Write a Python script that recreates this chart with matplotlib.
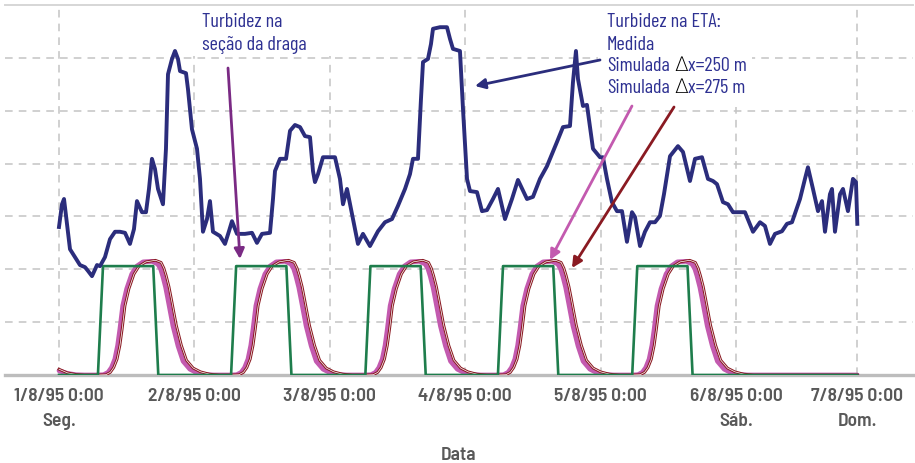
import matplotlib
matplotlib.use("Agg")
import matplotlib.pyplot as plt
import matplotlib.transforms as mtransforms
from matplotlib.patches import Rectangle

ANN_FONT = ['Barlow Condensed', 'Roboto Condensed', 'DejaVu Sans']
TICK_FONT = ['Barlow Semi Condensed', 'Roboto Condensed', 'DejaVu Sans']
plt.rcParams['font.family'] = TICK_FONT

# ---------------- data ----------------
# Turbidez na ETA medida (hours since 1/8/95 0:00, turbidity)
med_t = [0.0, 0.53, 0.89, 1.42, 1.95, 2.84, 3.72, 4.61, 5.14, 5.85, 6.74, 7.27, 8.15, 9.04, 9.93,
         10.81, 11.70, 12.58, 13.29, 13.82, 14.71, 15.42, 15.95, 16.48, 17.01, 17.55, 18.43, 18.96,
         19.32, 20.03, 20.56, 21.09, 21.45, 22.51, 22.86, 23.57, 24.46, 24.99, 25.52, 26.23, 26.76,
         27.29, 28.53, 29.42, 30.13, 30.66, 31.55, 32.97, 34.21, 35.09, 35.98, 37.40, 37.93, 38.29,
         39.17, 40.24, 40.95, 41.83, 42.72, 43.60, 44.49, 45.02, 45.37, 45.91, 46.79, 48.92, 49.80,
         50.34, 51.05, 51.93, 52.99, 53.88, 55.12, 56.54, 57.78, 59.02, 60.08, 61.33, 62.21, 62.74,
         63.63, 64.16, 64.52, 65.40, 65.93, 66.29, 67.53, 68.77, 69.30, 69.83, 71.07, 71.61, 72.32,
         72.85, 74.09, 74.98, 75.86, 76.92, 77.81, 79.05, 80.29, 81.35, 82.95, 84.01, 85.25, 86.49,
         88.27, 89.33, 90.57, 91.10, 91.63, 91.99, 92.87, 93.58, 94.65, 95.89, 96.42, 97.13, 98.01,
         98.90, 99.79, 100.67, 101.56, 102.09, 102.98, 103.86, 104.75, 105.64, 106.52, 107.23,
         108.30, 109.71, 110.60, 111.84, 112.73, 113.97, 115.03, 115.92, 116.63, 117.69, 118.58,
         119.46, 121.59, 123.01, 124.25, 125.13, 126.02, 126.91, 128.15, 129.03, 129.92, 131.34,
         132.22, 132.75, 133.64, 134.53, 135.24, 135.77, 136.65, 137.01, 137.54, 138.43, 138.96,
         139.84, 140.73, 141.26, 141.5]
med_v = [28.0, 32.3, 33.3, 28.6, 23.8, 22.3, 20.8, 20.4, 19.7, 18.7, 20.8, 20.6, 22.3, 25.7, 27.1,
         27.1, 26.9, 24.8, 27.6, 32.9, 30.8, 30.8, 35.2, 40.9, 39.0, 35.2, 32.3, 42.8,
         56.9, 59.8, 61.3, 59.8, 57.5, 57.1, 54.1, 46.5, 42.8, 37.1, 27.1, 29.5, 32.9,
         27.1, 26.3, 24.8, 27.2, 29.1, 26.7, 26.7, 26.9, 25.0, 26.7, 26.9, 33.3, 38.6,
         40.9, 40.9, 46.2, 47.3, 46.9, 45.2, 45.0, 38.6, 36.5, 38.0, 41.2, 41.2, 37.1,
         32.3, 35.2, 30.5, 24.8, 26.7, 24.4, 27.2, 28.9, 29.5, 32.0, 35.2, 38.0, 40.9,
         40.9, 52.2, 59.2, 59.8, 62.6, 65.5, 65.8, 65.8, 63.6, 61.7, 61.3, 50.3, 37.1,
         34.8, 34.6, 31.0, 31.2, 33.3, 35.2, 29.5, 33.3, 36.9, 33.3, 33.7, 37.1, 39.5,
         44.1, 46.9, 47.1, 55.4, 61.3, 56.0, 50.9, 51.1, 42.8, 41.2, 41.2, 37.1, 32.7,
         31.0, 31.0, 25.2, 30.8, 29.9, 24.4, 27.1, 28.9, 28.9, 30.1, 34.2,
         41.4, 43.3, 42.2, 36.7, 40.9, 41.2, 37.1, 36.7, 36.1, 32.7, 32.3,
         30.8, 30.8, 27.1, 28.9, 28.2, 24.8, 26.7, 27.2, 28.6, 28.9, 33.3,
         37.1, 39.3, 35.2, 31.0, 32.9, 27.1, 34.2, 35.2, 27.1, 34.2, 35.2,
         31.0, 37.1, 36.5, 28.6]

# pulse start times (h) of dredging
pulse_start = [6.9, 30.5, 54.3, 77.8, 101.6]
end_t = 141.5

# Turbidez na seção da draga (profile relative to pulse start)
draga_off = [0.0, 0.9, 9.8, 10.7]
draga_val = [0.0, 20.6, 20.6, 0.0]

# Simulada dx=250 m (profile relative to pulse start)
s250_off = [0.0, 1.0, 1.8, 2.4, 3.0, 3.5, 3.9, 4.4, 5.1, 6.0, 6.9, 8.0, 9.6, 10.6, 11.1, 11.5,
            12.0, 12.4, 13.3, 14.2, 15.1, 16.3, 17.6, 19.0, 20.5]
s250_val = [0.0, 0.05, 0.5, 1.4, 3.0, 5.6, 8.7, 13.1, 16.3, 19.1, 20.6, 21.4, 21.5, 21.0, 20.1, 18.7,
            16.6, 14.4, 9.3, 5.5, 2.6, 1.1, 0.4, 0.1, 0.0]
s250_tail_t = [0.0, 1.5, 3.0, 4.5]
s250_tail_v = [0.8, 0.3, 0.05, 0.0]

# Simulada dx=275 m (profile relative to pulse start)
s275_off = [0.0, 1.4, 2.2, 2.8, 3.4, 3.9, 4.3, 4.8, 5.5, 6.4, 7.3, 8.5, 10.2, 11.2, 11.7, 12.1,
            12.6, 13.0, 13.9, 14.8, 15.7, 16.9, 18.2, 19.8, 21.5]
s275_val = [0.0, 0.05, 0.5, 1.4, 3.0, 5.6, 8.7, 13.1, 16.3, 19.1, 20.6, 21.4, 21.7, 21.3, 20.2, 18.8,
            16.7, 14.5, 9.4, 5.6, 2.8, 1.3, 0.6, 0.15, 0.0]
s275_tail_t = [0.0, 1.5, 3.0, 4.5]
s275_tail_v = [1.1, 0.4, 0.1, 0.0]

tick_pos = [0, 24, 48, 72, 96, 120, 141.5]
tick_labels = ["1/8/95 0:00", "2/8/95 0:00", "3/8/95 0:00", "4/8/95 0:00",
               "5/8/95 0:00", "6/8/95 0:00", "7/8/95 0:00"]
day_pos = [0, 120, 141.5]
day_labels = ["Seg.", "Sáb.", "Dom."]


def build(tail_t, tail_v, off, val):
    t = list(tail_t)
    v = list(tail_v)
    for s in pulse_start:
        t += [s + o for o in off]
        v += list(val)
    t.append(end_t)
    v.append(0.0)
    return t, v


draga_t, draga_v = build([0.0], [0.0], draga_off, draga_val)
s250_t, s250_v = build(s250_tail_t, s250_tail_v, s250_off, s250_val)
s275_t, s275_v = build(s275_tail_t, s275_tail_v, s275_off, s275_val)

# ---------------- colours ----------------
NAVY = '#2b2d7c'
PINK = '#c35aaf'
DRED = '#8a1a22'
GREEN = '#1e7d4c'
PURPLE = '#7a2a84'
TXT = '#2e3192'
GRAY = '#595959'

fig = plt.figure(figsize=(9.15, 4.64), dpi=100)
ax = fig.add_axes([5 / 915, (464 - 376) / 464, 908 / 915, 370 / 464])
ax.set_xlim(-9.57, 151.37)
ax.set_ylim(0, 70)

# grid
for yv in [10, 20, 30, 40, 50, 60]:
    ax.axhline(yv, color='#c4c4c4', lw=1.1, dashes=(5, 4), zorder=0)
for xv in tick_pos:
    ax.axvline(xv, color='#c4c4c4', lw=1.1, dashes=(5, 4), zorder=0)

for sp in ['left', 'right']:
    ax.spines[sp].set_visible(False)
ax.spines['top'].set_color('#d6d6d6')
ax.spines['top'].set_linewidth(1.4)
ax.spines['bottom'].set_color('#bdbdbd')
ax.spines['bottom'].set_linewidth(2.4)
ax.set_yticks([])

# white boxes behind annotation text
ax.add_patch(Rectangle((0.2037, 0.862), 0.1608, 0.132, transform=ax.transAxes,
                       facecolor='white', edgecolor='none', zorder=1))
ax.add_patch(Rectangle((0.653, 0.724), 0.17, 0.27, transform=ax.transAxes,
                       facecolor='white', edgecolor='none', zorder=1))

# series
ax.plot(s250_t, s250_v, color=PINK, lw=3.4, solid_capstyle='round', zorder=3)
ax.plot(s275_t, s275_v, color=DRED, lw=2.0, zorder=4)
ax.plot(s275_t, s275_v, color='white', lw=0.5, zorder=4.1)
ax.plot(draga_t, draga_v, color=GREEN, lw=1.9, zorder=5)
ax.plot(med_t, med_v, color=NAVY, lw=2.8, solid_joinstyle='round', zorder=6)

# ticks
TFS = 14
ax.set_xticks(tick_pos)
ax.set_xticklabels(tick_labels, fontsize=TFS, color=GRAY, fontweight='semibold')
ax.tick_params(axis='x', length=0, pad=8.5)
trans = mtransforms.blended_transform_factory(ax.transData, ax.transAxes)
for p, lab in zip(day_pos, day_labels):
    ax.text(p, -0.124, lab, transform=trans, ha='center', va='center',
            fontsize=TFS, color=GRAY, fontweight='semibold')
fig.text(459 / 915, (464 - 456) / 464, "Data", ha='center', va='center',
         fontsize=TFS, color=GRAY, fontweight='semibold')

# annotations
AFS = 14.5
ax.text(0.217, 0.9432, "Turbidez na", transform=ax.transAxes, ha='left', va='baseline',
        fontsize=AFS, color=TXT, zorder=7, family=ANN_FONT)
ax.text(0.217, 0.8811, "seção da draga", transform=ax.transAxes, ha='left', va='baseline',
        fontsize=AFS, color=TXT, zorder=7, family=ANN_FONT)
ax.text(0.663, 0.9432, "Turbidez na ETA:", transform=ax.transAxes, ha='left', va='baseline',
        fontsize=AFS, color=TXT, zorder=7, family=ANN_FONT)
ax.text(0.663, 0.8811, "Medida", transform=ax.transAxes, ha='left', va='baseline',
        fontsize=AFS, color=TXT, zorder=7, family=ANN_FONT)
for yy, tail in [(0.8135, "x=250 m"), (0.7541, "x=275 m")]:
    t1 = ax.text(0.663, yy, "Simulada", transform=ax.transAxes, ha='left', va='bottom',
                 fontsize=AFS, color=TXT, zorder=7, family=ANN_FONT)
    t2 = ax.annotate("∆", xy=(1, 0), xycoords=t1, xytext=(3.2, 0), textcoords='offset points',
                     ha='left', va='bottom', fontsize=AFS, color='black', zorder=7,
                     family=['DejaVu Sans'], fontweight='light')
    ax.annotate(tail, xy=(1, 0), xycoords=t2, ha='left', va='bottom', fontsize=AFS,
                color=TXT, zorder=7, family=ANN_FONT)

arrows = [((0.2588, 0.3135), (0.2456, 0.8297), PURPLE),
          ((0.5176, 0.7811), (0.6553, 0.8514), NAVY),
          ((0.6002, 0.3108), (0.6905, 0.7270), PINK),
          ((0.6244, 0.2892), (0.7368, 0.7243), DRED)]
for xy, xyt, c in arrows:
    ax.annotate("", xy=xy, xytext=xyt, xycoords='axes fraction', textcoords='axes fraction',
                arrowprops=dict(arrowstyle='-|>', color=c, lw=2.0, mutation_scale=15,
                                shrinkA=0, shrinkB=0), zorder=8)

fig.savefig("out.png", dpi=100)
